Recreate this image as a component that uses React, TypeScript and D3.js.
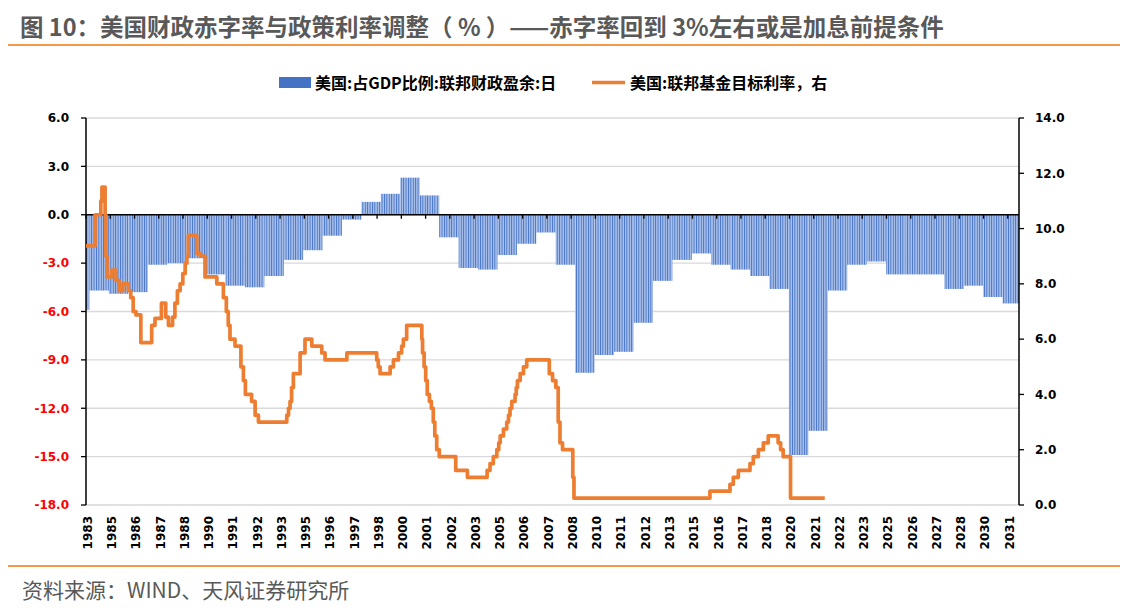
import React from "react";
import * as d3 from "d3";

// ---- Data ----
const FISCAL_YEARS = [
  1983, 1984, 1985, 1986, 1987, 1988, 1989, 1990, 1991, 1992, 1993, 1994, 1995, 1996, 1997,
  1998, 1999, 2000, 2001, 2002, 2003, 2004, 2005, 2006, 2007, 2008, 2009, 2010, 2011, 2012,
  2013, 2014, 2015, 2016, 2017, 2018, 2019, 2020, 2021, 2022, 2023, 2024, 2025, 2026, 2027,
  2028, 2029, 2030, 2031,
];
const BALANCE_PCT_GDP = [
  -5.9, -4.7, -4.9, -4.8, -3.1, -3.0, -2.7, -3.7, -4.4, -4.5, -3.8, -2.8, -2.2, -1.3, -0.3,
  0.8, 1.3, 2.3, 1.2, -1.4, -3.3, -3.4, -2.5, -1.8, -1.1, -3.1, -9.8, -8.7, -8.5, -6.7,
  -4.1, -2.8, -2.4, -3.1, -3.4, -3.8, -4.6, -14.9, -13.4, -4.7, -3.1, -2.9, -3.7, -3.7, -3.7,
  -4.6, -4.4, -5.1, -5.5,
];
const FY_BLOCK_START = "-01-20"; // each year's value is shown from this day onward

const RATE_DATES = [
  "1983-11-17", "1984-05-05", "1984-08-22", "1984-09-12", "1984-11-10", "1984-11-25", "1984-12-16",
  "1985-03-14", "1985-06-03", "1985-07-31", "1985-10-08", "1986-01-22", "1986-03-07", "1986-04-22",
  "1986-06-13", "1986-09-13", "1987-04-05", "1987-06-06", "1987-10-05", "1987-12-25", "1988-02-14",
  "1988-05-01", "1988-06-14", "1988-07-31", "1988-09-20", "1988-11-10", "1988-12-24", "1989-01-26",
  "1989-02-21", "1989-07-31", "1989-10-04", "1990-01-01", "1990-08-11", "1990-12-13", "1991-02-06",
  "1991-03-14", "1991-04-16", "1991-07-19", "1991-11-07", "1991-12-24", "1992-01-30", "1992-05-26",
  "1992-07-31", "1992-10-01", "1994-03-18", "1994-04-20", "1994-05-19", "1994-06-17", "1994-07-20",
  "1994-11-24", "1995-02-24", "1995-07-02", "1996-01-05", "1996-03-07", "1997-04-21", "1998-11-03",
  "1998-12-02", "1999-01-05", "1999-07-13", "1999-09-13", "1999-12-17", "2000-02-14", "2000-03-18",
  "2000-05-19", "2001-02-28", "2001-03-14", "2001-04-12", "2001-05-12", "2001-06-10", "2001-07-20",
  "2001-08-26", "2001-10-01", "2001-10-30", "2001-12-05", "2002-01-22", "2002-11-28", "2003-07-05",
  "2004-07-09", "2004-09-02", "2004-11-03", "2005-01-08", "2005-02-13", "2005-03-12", "2005-05-12",
  "2005-07-13", "2005-08-15", "2005-09-13", "2005-10-16", "2005-12-17", "2006-01-08", "2006-01-30",
  "2006-03-22", "2006-05-23", "2006-07-24", "2007-09-21", "2007-11-22", "2008-01-23", "2008-03-07",
  "2008-04-09", "2008-05-27", "2008-12-06", "2008-12-28", "2015-12-28", "2017-01-08", "2017-03-11",
  "2017-06-14", "2018-01-19", "2018-03-22", "2018-06-25", "2018-09-27", "2018-12-28", "2019-07-02",
  "2019-08-18", "2019-10-05", "2020-02-20", "2021-11-24",
];
const RATE_VALUES = [
  9.375, 10.5, 11.0, 11.5, 10.5, 9.0, 8.25,
  8.5, 8.125, 7.75, 8.0, 7.75, 7.5, 7.0,
  6.875, 5.875, 6.5, 6.75, 7.3, 6.8, 6.5,
  6.8, 7.3, 7.75, 8.0, 8.375, 8.75, 9.0,
  9.75, 9.1, 9.0, 8.25, 8.0, 7.5, 7.0,
  6.5, 6.0, 5.75, 5.0, 4.5, 4.0, 3.75,
  3.25, 3.0, 3.25, 3.5, 3.75, 4.25, 4.75,
  5.5, 6.0, 5.75, 5.5, 5.25, 5.5, 5.25,
  5.0, 4.75, 5.0, 5.25, 5.5, 5.75, 6.0,
  6.5, 6.0, 5.5, 5.0, 4.5, 4.0, 3.75,
  3.5, 3.0, 2.5, 2.0, 1.75, 1.25, 1.0,
  1.25, 1.5, 1.75, 2.0, 2.25, 2.5, 2.75,
  3.0, 3.25, 3.5, 3.75, 4.0, 4.25, 4.5,
  4.75, 5.0, 5.25, 4.75, 4.5, 4.25, 3.0,
  2.25, 2.0, 1.0, 0.25, 0.5, 0.75, 1.0,
  1.25, 1.5, 1.75, 2.0, 2.25, 2.5, 2.25,
  2.0, 1.75, 0.25, 0.25,
];

const AXIS_START = "1983-11-17";
const AXIS_END = "2031-11-24";
const TICK_STEP_DAYS = 456;
const TICK_LABELS = [
  "1983", "1985", "1986", "1987", "1988", "1990", "1991", "1992", "1993", "1995", "1996", "1997",
  "1998", "2000", "2001", "2002", "2003", "2005", "2006", "2007", "2008", "2010", "2011", "2012",
  "2013", "2015", "2016", "2017", "2018", "2020", "2021", "2022", "2023", "2025", "2026", "2027",
  "2028", "2030", "2031",
];
const LEFT_TICKS = [6, 3, 0, -3, -6, -9, -12, -15, -18];
const RIGHT_TICKS = [14, 12, 10, 8, 6, 4, 2, 0];

const TITLE = "图 10：美国财政赤字率与政策利率调整（ % ）——赤字率回到 3%左右或是加息前提条件";
const LEGEND_BAR = "美国:占GDP比例:联邦财政盈余:日";
const LEGEND_LINE = "美国:联邦基金目标利率，右";
const SOURCE = "资料来源：WIND、天风证券研究所";

// ---- Styles ----
const W = 1127;
const H = 615;
const PLOT = { left: 86, right: 1019, top: 118, bottom: 505 };
const BLUE = "#4472C4";
const BLUE_LIGHT = "#A9C0EA";
const ORANGE = "#ED7D31";
const RULE = "#F39A4A";
const GRID = "#D9D9D9";
const CJK = "'Noto Sans CJK SC', 'Noto Sans', sans-serif";
const NUM = "'DejaVu Sans', sans-serif";

const parse = d3.timeParse("%Y-%m-%d");

export default function App() {
  const start = parse(AXIS_START) as Date;
  const end = parse(AXIS_END) as Date;
  const x = d3.scaleTime().domain([start, end]).range([PLOT.left, PLOT.right]);
  const yL = d3.scaleLinear().domain([-18, 6]).range([PLOT.bottom, PLOT.top]);
  const yR = d3.scaleLinear().domain([0, 14]).range([PLOT.bottom, PLOT.top]);

  const blocks = FISCAL_YEARS.map((fy, i) => {
    const s0 = parse(`${fy}${FY_BLOCK_START}`) as Date;
    const s = s0 < start ? start : s0;
    const e = i < FISCAL_YEARS.length - 1 ? (parse(`${FISCAL_YEARS[i + 1]}${FY_BLOCK_START}`) as Date) : end;
    return { s, e, v: BALANCE_PCT_GDP[i] };
  });

  const ratePts = RATE_DATES.map((d, i) => ({ d: parse(d) as Date, v: RATE_VALUES[i] }));
  const line = d3
    .line<{ d: Date; v: number }>()
    .x((p) => x(p.d))
    .y((p) => yR(p.v))
    .curve(d3.curveStepAfter);

  const ticks = TICK_LABELS.map((lab, i) => ({ lab, xp: x(d3.timeDay.offset(start, i * TICK_STEP_DAYS)) }));
  const y0 = yL(0);

  return (
    <svg width={W} height={H} style={{ display: "block", position: "absolute", left: 0, top: 0, background: "#fff" }}>
      <defs>
        <pattern id="stripes" patternUnits="userSpaceOnUse" width={2.4} height={10}>
          <rect x={0} y={0} width={2.4} height={10} fill={BLUE_LIGHT} />
          <rect x={0} y={0} width={0.9} height={10} fill={BLUE} />
        </pattern>
      </defs>
      <rect x={0} y={0} width={W} height={H} fill="#fff" />

      {/* Title */}
      <text x={20} y={36} fontFamily={CJK} fontSize={23.5} fontWeight={700} fill="#595959">
        {TITLE}
      </text>
      <line x1={8} x2={1120} y1={45} y2={45} stroke={RULE} strokeWidth={2} />

      {/* Legend */}
      <rect x={279} y={77} width={32} height={11} fill={BLUE} />
      <text x={315} y={88.5} fontFamily={CJK} fontSize={16} fontWeight={700} fill="#000">
        {LEGEND_BAR}
      </text>
      <line x1={592} x2={625} y1={82.5} y2={82.5} stroke={ORANGE} strokeWidth={3.5} />
      <text x={630} y={88.5} fontFamily={CJK} fontSize={16} fontWeight={700} fill="#000">
        {LEGEND_LINE}
      </text>

      {/* Gridlines */}
      {LEFT_TICKS.map((t) => (
        <line key={`g${t}`} x1={PLOT.left} x2={PLOT.right} y1={yL(t)} y2={yL(t)} stroke={GRID} strokeWidth={1.3} />
      ))}

      {/* Bars */}
      {blocks.map((b, i) => (
        <rect
          key={`b${i}`}
          x={x(b.s)}
          width={Math.max(0, x(b.e) - x(b.s))}
          y={Math.min(yL(b.v), y0)}
          height={Math.abs(yL(b.v) - y0)}
          fill="url(#stripes)"
        />
      ))}

      {/* Zero line + category ticks */}
      <line x1={PLOT.left} x2={PLOT.right} y1={y0} y2={y0} stroke="#000" strokeWidth={1.5} />
      {ticks.map((t, i) => (
        <line key={`xt${i}`} x1={t.xp} x2={t.xp} y1={y0} y2={y0 + 4} stroke="#000" strokeWidth={1.3} />
      ))}

      {/* Left axis */}
      <line x1={PLOT.left} x2={PLOT.left} y1={PLOT.top} y2={PLOT.bottom} stroke="#000" strokeWidth={1.5} />
      {LEFT_TICKS.map((t) => (
        <g key={`l${t}`}>
          <line x1={PLOT.left - 5} x2={PLOT.left} y1={yL(t)} y2={yL(t)} stroke="#000" strokeWidth={1.3} />
          <text
            x={69}
            y={yL(t)}
            dy="0.36em"
            textAnchor="end"
            fontFamily={NUM}
            fontSize={12}
            fontWeight={700}
            fill={t < 0 ? "#FF0000" : "#000"}
          >
            {t.toFixed(1)}
          </text>
        </g>
      ))}

      {/* Right axis */}
      <line x1={PLOT.right} x2={PLOT.right} y1={PLOT.top} y2={PLOT.bottom} stroke="#000" strokeWidth={1.5} />
      {RIGHT_TICKS.map((t) => (
        <g key={`r${t}`}>
          <line x1={PLOT.right} x2={PLOT.right + 5} y1={yR(t)} y2={yR(t)} stroke="#000" strokeWidth={1.3} />
          <text x={1035} y={yR(t)} dy="0.36em" fontFamily={NUM} fontSize={12} fontWeight={700} fill="#000">
            {t.toFixed(1)}
          </text>
        </g>
      ))}

      {/* X labels */}
      {ticks.map((t, i) => (
        <text
          key={`xl${i}`}
          transform={`translate(${t.xp + 1.5},${516}) rotate(-90)`}
          textAnchor="end"
          dy="0.36em"
          fontFamily={NUM}
          fontSize={12}
          fontWeight={700}
          fill="#000"
        >
          {t.lab}
        </text>
      ))}

      {/* Rate line */}
      <path d={line(ratePts) || ""} fill="none" stroke={ORANGE} strokeWidth={3.7} strokeLinejoin="round" />

      {/* Footer */}
      <line x1={8} x2={1120} y1={566} y2={566} stroke={RULE} strokeWidth={2} />
      <text x={22} y={598} fontFamily={CJK} fontSize={21} fill="#595959">
        {SOURCE}
      </text>
    </svg>
  );
}
